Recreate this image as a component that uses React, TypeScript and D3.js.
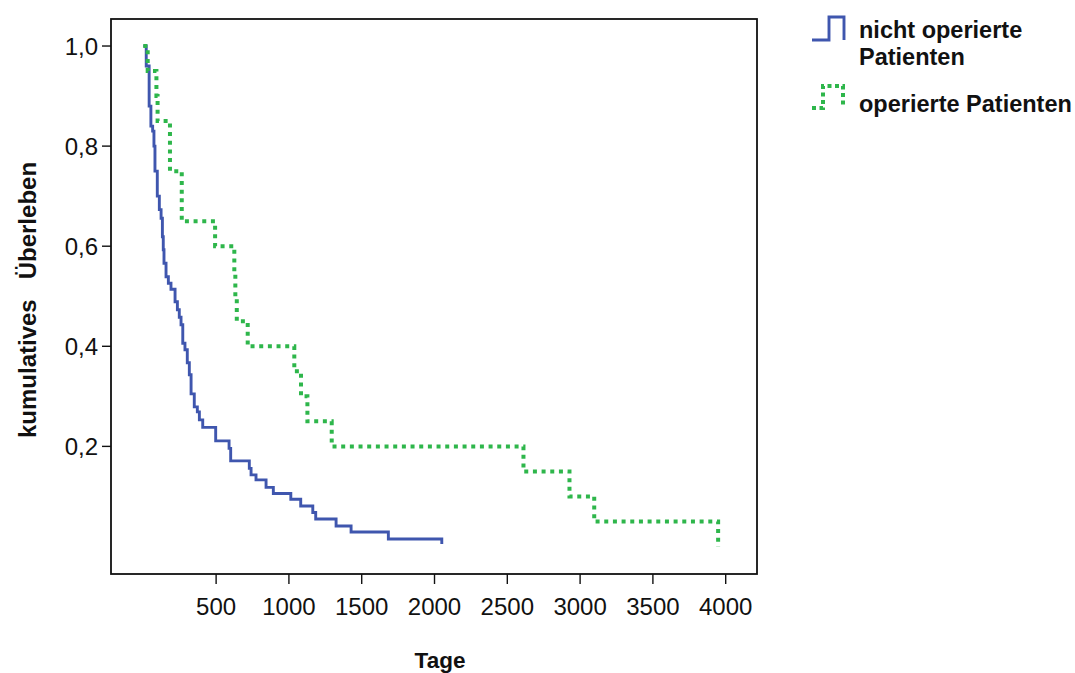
import React from "react";
import * as d3 from "d3";

// Kaplan–Meier steps: time in days, cumulative survival after the event
const nonOpTimes = [0, 20, 40, 52, 64, 73, 80, 96, 110, 122, 131, 137, 142, 156, 172, 190, 218, 234, 247, 259, 271, 286, 302, 316, 328, 350, 371, 385, 408, 497, 589, 600, 728, 740, 774, 843, 893, 1013, 1081, 1164, 1184, 1324, 1427, 1683, 2050];
const nonOpSurv = [1.0, 0.96, 0.88, 0.84, 0.83, 0.8, 0.75, 0.7, 0.673, 0.656, 0.619, 0.593, 0.566, 0.539, 0.526, 0.514, 0.489, 0.473, 0.458, 0.443, 0.406, 0.393, 0.367, 0.343, 0.305, 0.279, 0.269, 0.253, 0.238, 0.211, 0.196, 0.171, 0.156, 0.143, 0.133, 0.118, 0.106, 0.0945, 0.081, 0.068, 0.055, 0.041, 0.029, 0.015, 0.005];

const opTimes = [0, 30, 90, 98, 183, 264, 493, 625, 632, 642, 717, 1037, 1083, 1127, 1294, 2611, 2927, 3097, 3948];
const opSurv = [1.0, 0.95, 0.9, 0.85, 0.75, 0.65, 0.6, 0.55, 0.5, 0.45, 0.4, 0.35, 0.3, 0.25, 0.2, 0.15, 0.1, 0.05, 0.0];

const xTicks = [500, 1000, 1500, 2000, 2500, 3000, 3500, 4000];
const yTicks = [0.2, 0.4, 0.6, 0.8, 1.0];

const legendLabels = [["nicht operierte", "Patienten"], ["operierte Patienten"]];

const BLUE = "#3f56ae";
const GREEN = "#2eb64b";
const FONT = "'Liberation Sans', Arial, Helvetica, sans-serif";

export default function App() {
  const W = 1075;
  const H = 673;
  const left = 111, right = 757, top = 19, bottom = 574;

  const x = d3.scaleLinear().domain([-222, 4215]).range([left, right]);
  const y = d3.scaleLinear().domain([-0.055, 1.054]).range([bottom, top]);

  const line = d3
    .line<[number, number]>()
    .x((d) => x(d[0]))
    .y((d) => y(d[1]))
    .curve(d3.curveStepAfter);

  const nonOp = line(nonOpTimes.map((t, i) => [t, nonOpSurv[i]] as [number, number])) || "";
  const op = line(opTimes.map((t, i) => [t, opSurv[i]] as [number, number])) || "";

  const fmt = (v: number) => v.toFixed(1).replace(".", ",");

  return (
    <svg
      width={W}
      height={H}
      style={{ position: "absolute", left: 0, top: 0, background: "#fff" }}
      fontFamily={FONT}
    >
      <rect x={0} y={0} width={W} height={H} fill="#fff" />

      {/* survival curves */}
      <path d={nonOp} fill="none" stroke={BLUE} strokeWidth={2.9} />
      <path d={op} fill="none" stroke={GREEN} strokeWidth={4} strokeDasharray="4 4.67" />

      {/* frame */}
      <rect x={left} y={top} width={right - left} height={bottom - top} fill="none" stroke="#111" strokeWidth={1.8} />

      {/* y axis */}
      {yTicks.map((v) => (
        <g key={v}>
          <line x1={left - 9} x2={left} y1={y(v)} y2={y(v)} stroke="#111" strokeWidth={1.4} />
          <text x={left - 13} y={y(v)} dy="0.36em" textAnchor="end" fontSize={24} fill="#111">
            {fmt(v)}
          </text>
        </g>
      ))}

      {/* x axis */}
      {xTicks.map((v) => (
        <g key={v}>
          <line x1={x(v)} x2={x(v)} y1={bottom} y2={bottom + 10} stroke="#111" strokeWidth={1.4} />
          <text x={x(v)} y={615} textAnchor="middle" fontSize={24} fill="#111">
            {v}
          </text>
        </g>
      ))}

      <text x={440} y={668} textAnchor="middle" fontSize={22.5} fontWeight="bold" fill="#111">
        Tage
      </text>

      <text
        transform="translate(36,300) rotate(-90)"
        textAnchor="middle"
        fontSize={24}
        fontWeight="bold"
        fill="#111"
        style={{ whiteSpace: "pre" }}
      >
        {"kumulatives   Überleben"}
      </text>

      {/* legend */}
      <path d="M812,40 H829 V17 H844 V40" fill="none" stroke={BLUE} strokeWidth={2.9} />
      <text x={859} y={38} fontSize={23.5} fontWeight="bold" fill="#111">
        {legendLabels[0][0]}
      </text>
      <text x={859} y={65} fontSize={23.5} fontWeight="bold" fill="#111">
        {legendLabels[0][1]}
      </text>
      <path d="M812,108 H823 V86 H843 V108" fill="none" stroke={GREEN} strokeWidth={4} strokeDasharray="4 3.5" />
      <text x={859} y={112} fontSize={23.5} fontWeight="bold" fill="#111">
        {legendLabels[1][0]}
      </text>
    </svg>
  );
}
